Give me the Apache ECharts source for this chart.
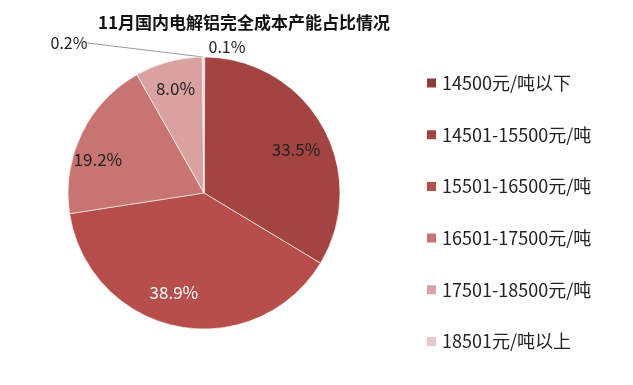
<!DOCTYPE html>
<html><head><meta charset="utf-8">
<script src="https://cdn.jsdelivr.net/npm/echarts@6/dist/echarts.min.js"></script>
<style>html,body{margin:0;padding:0;background:#fff}#c{width:633px;height:385px}</style>
</head><body><div id="c"></div>
<script>
const titleText = '11月国内电解铝完全成本产能占比情况';
const categories = ['14500元/吨以下','14501-15500元/吨','15501-16500元/吨','16501-17500元/吨','17501-18500元/吨','18501元/吨以上'];
const values = [0.1, 33.5, 38.9, 19.2, 8.0, 0.2];
const colors = ['#8E3B3A','#A44442','#B84E4B','#C87472','#D9A2A1','#E8C5C6'];
const labelColors = ['#222','#222','#fff','#222','#222','#222'];
const insideLabel = [false,true,true,true,true,false];

const FONT = '"Noto Sans CJK SC","Noto Sans",sans-serif';
const chart = echarts.init(document.getElementById('c'));
const center = [204, 193];
const R = 136;
// fine label offsets (label layout nudges, not data)
const labelNudge = { 1: [-3, 10], 2: [-9, -7], 3: [-8, 14], 4: [0, 1] };

chart.setOption({
  animation: false,
  title: { text: titleText, left: 239, top: 9, textAlign: 'center',
    textStyle: { fontFamily: FONT, fontSize: 17, fontWeight: 'bold', color: '#111' } },
  legend: {
    orient: 'vertical', left: 425, top: 73, padding: 0, itemWidth: 11, itemHeight: 11, itemGap: 31.7,
    icon: 'rect',
    textStyle: { fontFamily: FONT, fontSize: 18, color: '#222', lineHeight: 20 },
    data: categories.map((n,i)=>({ name: n, itemStyle: { color: colors[i] } }))
  },
  series: [
    {
      type: 'pie', name: 'main', center: center, radius: [0, R], startAngle: 90, clockwise: true,
      avoidLabelOverlap: false,
      itemStyle: { borderColor: '#fff', borderWidth: 0.6 },
      labelLine: { show: true, length: 0, length2: 0, smooth: false, lineStyle: { color: '#999', width: 1 } },
      data: categories.map((n,i)=>({
        name: n, value: values[i], itemStyle: { color: colors[i] },
        label: { show: !insideLabel[i], position: 'outside', formatter: v => v.value.toFixed(1) + '%',
          fontFamily: FONT, fontSize: 16, color: '#222' },
        labelLine: { show: i === 5 }
      })),
      labelLayout: function (p) {
        if (p.dataIndex === 5) return { x: 69, y: 43, align: 'center', verticalAlign: 'middle' };
        if (p.dataIndex === 0) return { x: 227, y: 47, align: 'center', verticalAlign: 'middle' };
        return {};
      }
    },
    {
      type: 'pie', name: 'labels', center: center, radius: [76, R], startAngle: 90, clockwise: true,
      silent: true, legendHoverLink: false,
      itemStyle: { color: 'rgba(0,0,0,0)' },
      labelLine: { show: false },
      data: categories.map((n,i)=>({
        name: n, value: values[i], itemStyle: { color: 'rgba(0,0,0,0)', borderWidth: 0 },
        label: { show: insideLabel[i], position: 'inside', formatter: v => v.value.toFixed(1) + '%',
          fontFamily: FONT, fontSize: 17, color: labelColors[i] }
      })),
      labelLayout: function (p) {
        const n = labelNudge[p.dataIndex];
        return n ? { dx: n[0], dy: n[1] } : {};
      }
    }
  ]
});
</script></body></html>
